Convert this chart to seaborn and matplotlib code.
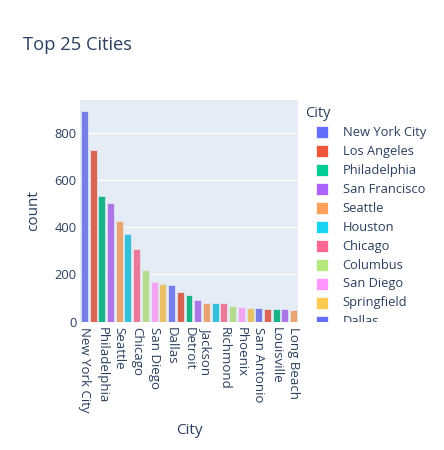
import matplotlib
matplotlib.use("Agg")
import matplotlib.pyplot as plt
import matplotlib.patches as mpatches
import seaborn as sns
import pandas as pd

# top 25 cities by order count
cities = ["New York City", "Los Angeles", "Philadelphia", "San Francisco", "Seattle",
          "Houston", "Chicago", "Columbus", "San Diego", "Springfield",
          "Dallas", "Jacksonville", "Detroit", "Newark", "Jackson",
          "Columbia", "Richmond", "Aurora", "Phoenix", "Arlington",
          "San Antonio", "Miami", "Louisville", "Rochester", "Long Beach"]
counts = [892, 728, 532, 501, 425, 373, 308, 220, 169, 160,
          154, 124, 113, 90, 80, 80, 80, 66, 62, 58,
          58, 54, 53, 53, 50]
palette = ["#636EFA", "#EF553B", "#00CC96", "#AB63FA", "#FFA15A",
           "#19D3F3", "#FF6692", "#B6E880", "#FF97FF", "#FECB52"]

df = pd.DataFrame({"City": cities, "count": counts})
colors = [palette[i % len(palette)] for i in range(len(cities))]

sns.set_style("white")
plt.rcParams['font.family'] = ['Open Sans', 'DejaVu Sans']
txt = "#2a3f5f"

W, H = 444, 450
fig = plt.figure(figsize=(W / 100, H / 100), dpi=100)
ax = fig.add_axes([80 / W, 1 - 321.7 / H, 218 / W, 221.7 / H])
ax.set_facecolor("#E5ECF6")

sns.barplot(data=df, x="City", y="count", hue="City", palette=colors,
            dodge=False, legend=False, width=0.8, ax=ax,
            edgecolor="#E5ECF6", linewidth=0.5, zorder=3)

ax.set_xlim(-0.5, len(cities) - 0.5)
ax.set_ylim(0, 938)
ax.set_yticks([0, 200, 400, 600, 800])
ax.yaxis.grid(True, color="white", linewidth=1, zorder=0)
ax.set_axisbelow(True)
for s in ax.spines.values():
    s.set_visible(False)

ax.set_xticks(range(0, len(cities), 2))
ax.set_xticklabels(cities[::2], rotation=-90, fontsize=9.5, color=txt)
ax.tick_params(axis="x", length=0, pad=4)
ax.tick_params(axis="y", length=0, pad=2.5, labelsize=9.3, labelcolor=txt)

ax.set_xlabel("City", fontsize=11, color=txt)
ax.xaxis.set_label_coords(0.5, (321.7 - 430) / 221.7)
ax.xaxis.label.set_va("center")
ax.set_ylabel("count", fontsize=11, color=txt)
ax.yaxis.set_label_coords((33.5 - 80) / 218, 0.5)
ax.yaxis.label.set_va("center")

fig.text(22.5 / W, 1 - 44.5 / H, "Top 25 Cities", fontsize=13.2, color=txt, va="center")

# legend, clipped at the bottom of the plot area like the original
fig.text(305 / W, 1 - 113.3 / H, "City", fontsize=10.5, color=txt, va="center")
for i in range(11):
    yc = 132.3 + i * 18.96
    fig.patches.append(mpatches.Rectangle((316 / W, 1 - (yc + 6) / H), 12 / W, 12 / H,
                                          transform=fig.transFigure, facecolor=palette[i % 10],
                                          edgecolor="white", linewidth=0.5, zorder=2))
    fig.text(342.7 / W, 1 - yc / H, cities[i], fontsize=9.3, color=txt, va="center", zorder=2)
fig.patches.append(mpatches.Rectangle((300 / W, 1 - 345 / H), 144 / W, 23.5 / H,
                                      transform=fig.transFigure, facecolor="white",
                                      edgecolor="none", zorder=5))

fig.savefig("out.png", dpi=100)
